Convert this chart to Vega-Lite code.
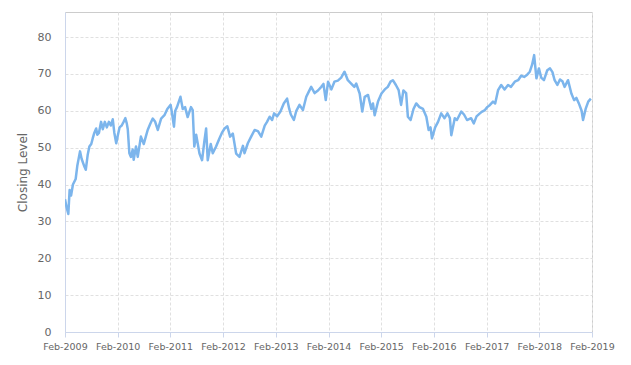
{
  "$schema": "https://vega.github.io/schema/vega-lite/v6.json",
  "width": 527,
  "height": 320,
  "autosize": "none",
  "padding": {"left": 65, "top": 12, "right": 39, "bottom": 33},
  "background": "white",
  "config": {
    "font": "DejaVu Sans",
    "view": {"stroke": "#cccccc", "strokeWidth": 1}
  },
  "data": {"values": [
    {"d":"2009-02-01","v":36},{"d":"2009-02-11","v":34},{"d":"2009-02-24","v":32},{"d":"2009-03-05","v":38.5},{"d":"2009-03-15","v":37},{"d":"2009-03-28","v":40},{"d":"2009-04-16","v":41.5},{"d":"2009-04-27","v":45},{"d":"2009-05-16","v":49},{"d":"2009-05-27","v":47},{"d":"2009-06-16","v":44.8},{"d":"2009-06-25","v":44},{"d":"2009-07-08","v":48},{"d":"2009-07-20","v":50.3},{"d":"2009-08-02","v":51},{"d":"2009-08-12","v":52.5},{"d":"2009-08-23","v":54},{"d":"2009-09-05","v":55.2},{"d":"2009-09-13","v":53.5},{"d":"2009-09-24","v":54},{"d":"2009-10-09","v":57},{"d":"2009-10-21","v":55},{"d":"2009-11-04","v":57},{"d":"2009-11-18","v":55.5},{"d":"2009-12-02","v":57},{"d":"2009-12-15","v":56},{"d":"2009-12-29","v":57.7},{"d":"2010-01-09","v":54},{"d":"2010-01-22","v":51.2},{"d":"2010-02-03","v":53.5},{"d":"2010-02-14","v":55.5},{"d":"2010-03-01","v":56},{"d":"2010-03-14","v":57},{"d":"2010-03-26","v":58},{"d":"2010-04-05","v":56.6},{"d":"2010-04-12","v":55},{"d":"2010-04-23","v":48.5},{"d":"2010-05-04","v":47.5},{"d":"2010-05-16","v":49.5},{"d":"2010-05-23","v":46.7},{"d":"2010-06-08","v":50.3},{"d":"2010-06-20","v":47.5},{"d":"2010-07-12","v":53},{"d":"2010-08-01","v":51},{"d":"2010-08-15","v":53},{"d":"2010-08-28","v":54.8},{"d":"2010-09-15","v":56.5},{"d":"2010-10-02","v":57.9},{"d":"2010-10-19","v":57},{"d":"2010-11-06","v":54.8},{"d":"2010-11-29","v":57.9},{"d":"2010-12-22","v":58.8},{"d":"2011-01-11","v":60.5},{"d":"2011-02-03","v":61.6},{"d":"2011-02-12","v":59.5},{"d":"2011-02-26","v":55.7},{"d":"2011-03-07","v":60},{"d":"2011-03-19","v":61},{"d":"2011-04-12","v":63.8},{"d":"2011-04-28","v":60.5},{"d":"2011-05-14","v":61},{"d":"2011-06-01","v":58.3},{"d":"2011-06-24","v":61},{"d":"2011-07-06","v":60.2},{"d":"2011-07-17","v":50.3},{"d":"2011-07-30","v":53.5},{"d":"2011-08-22","v":48.4},{"d":"2011-09-09","v":46.6},{"d":"2011-09-24","v":51.5},{"d":"2011-10-07","v":55.2},{"d":"2011-10-18","v":46.6},{"d":"2011-11-08","v":51},{"d":"2011-11-22","v":48.5},{"d":"2011-12-15","v":50.3},{"d":"2012-01-07","v":52.5},{"d":"2012-01-24","v":54},{"d":"2012-02-12","v":55.2},{"d":"2012-03-02","v":55.8},{"d":"2012-03-21","v":53},{"d":"2012-04-09","v":53.8},{"d":"2012-05-02","v":48.4},{"d":"2012-05-25","v":47.5},{"d":"2012-06-18","v":50.5},{"d":"2012-06-29","v":48.5},{"d":"2012-07-22","v":51.2},{"d":"2012-08-14","v":53},{"d":"2012-09-07","v":54.8},{"d":"2012-09-30","v":54.5},{"d":"2012-10-23","v":53},{"d":"2012-11-16","v":56},{"d":"2012-12-02","v":57},{"d":"2012-12-20","v":58.4},{"d":"2013-01-06","v":57.5},{"d":"2013-01-20","v":59.3},{"d":"2013-02-10","v":58.5},{"d":"2013-03-05","v":59.8},{"d":"2013-03-28","v":62},{"d":"2013-04-20","v":63.3},{"d":"2013-05-05","v":60.5},{"d":"2013-05-16","v":59},{"d":"2013-06-06","v":57.5},{"d":"2013-06-23","v":60},{"d":"2013-07-15","v":61.6},{"d":"2013-08-08","v":60.2},{"d":"2013-08-31","v":63.8},{"d":"2013-09-15","v":65},{"d":"2013-10-04","v":66.5},{"d":"2013-10-28","v":64.8},{"d":"2013-11-20","v":65.5},{"d":"2013-12-13","v":66.5},{"d":"2013-12-28","v":67.3},{"d":"2014-01-13","v":62.9},{"d":"2014-01-29","v":67.9},{"d":"2014-02-21","v":65.8},{"d":"2014-03-14","v":67.9},{"d":"2014-04-07","v":68.2},{"d":"2014-04-30","v":69},{"d":"2014-05-23","v":70.6},{"d":"2014-06-15","v":68.3},{"d":"2014-07-08","v":67.4},{"d":"2014-07-30","v":66.5},{"d":"2014-08-12","v":67.4},{"d":"2014-09-05","v":64.7},{"d":"2014-09-23","v":59.8},{"d":"2014-10-10","v":63.8},{"d":"2014-11-02","v":64.3},{"d":"2014-11-25","v":60.5},{"d":"2014-12-06","v":62},{"d":"2014-12-18","v":58.8},{"d":"2015-01-10","v":62.5},{"d":"2015-02-03","v":64.7},{"d":"2015-02-26","v":65.8},{"d":"2015-03-19","v":66.5},{"d":"2015-04-07","v":67.9},{"d":"2015-04-23","v":68.3},{"d":"2015-05-14","v":67},{"d":"2015-06-02","v":65.6},{"d":"2015-06-19","v":61.6},{"d":"2015-07-05","v":65.5},{"d":"2015-07-24","v":64.8},{"d":"2015-08-05","v":58.4},{"d":"2015-08-24","v":57.5},{"d":"2015-09-13","v":60.5},{"d":"2015-10-02","v":62},{"d":"2015-10-24","v":61},{"d":"2015-11-18","v":60.5},{"d":"2015-12-11","v":58.4},{"d":"2015-12-27","v":54.8},{"d":"2016-01-09","v":55.5},{"d":"2016-01-19","v":52.5},{"d":"2016-02-10","v":55.5},{"d":"2016-03-01","v":57},{"d":"2016-03-23","v":59.3},{"d":"2016-04-15","v":58},{"d":"2016-05-05","v":59.3},{"d":"2016-05-22","v":58},{"d":"2016-06-01","v":53.4},{"d":"2016-06-25","v":58},{"d":"2016-07-10","v":57.5},{"d":"2016-08-09","v":59.8},{"d":"2016-08-28","v":59},{"d":"2016-09-18","v":57.5},{"d":"2016-10-16","v":58},{"d":"2016-11-04","v":56.6},{"d":"2016-11-23","v":58.5},{"d":"2016-12-16","v":59.3},{"d":"2017-01-01","v":59.8},{"d":"2017-01-20","v":60.2},{"d":"2017-02-05","v":61},{"d":"2017-02-24","v":61.6},{"d":"2017-03-17","v":62.5},{"d":"2017-04-01","v":62},{"d":"2017-04-21","v":65.6},{"d":"2017-05-13","v":67},{"d":"2017-06-05","v":65.8},{"d":"2017-06-29","v":67},{"d":"2017-07-20","v":66.5},{"d":"2017-08-15","v":67.9},{"d":"2017-09-07","v":68.3},{"d":"2017-09-28","v":69.5},{"d":"2017-10-19","v":69.2},{"d":"2017-11-09","v":69.8},{"d":"2017-11-27","v":70.6},{"d":"2017-12-13","v":72.5},{"d":"2017-12-27","v":75.1},{"d":"2018-01-12","v":68.8},{"d":"2018-01-29","v":71.5},{"d":"2018-02-14","v":69},{"d":"2018-03-05","v":68.3},{"d":"2018-03-28","v":71},{"d":"2018-04-16","v":71.5},{"d":"2018-05-03","v":70.5},{"d":"2018-05-18","v":68.3},{"d":"2018-06-06","v":67},{"d":"2018-06-24","v":68.5},{"d":"2018-07-11","v":68},{"d":"2018-07-26","v":66.5},{"d":"2018-08-19","v":68.3},{"d":"2018-09-11","v":64.7},{"d":"2018-09-30","v":62.9},{"d":"2018-10-16","v":63.5},{"d":"2018-11-02","v":62},{"d":"2018-11-21","v":60},{"d":"2018-12-01","v":57.5},{"d":"2018-12-19","v":60.5},{"d":"2019-01-06","v":62.5},{"d":"2019-01-24","v":63.3}
  ]},
  "mark": {"type": "line", "color": "#7cb5ec", "strokeWidth": 2.5, "strokeJoin": "round", "clip": true},
  "encoding": {
    "x": {
      "field": "d",
      "type": "temporal",
      "scale": {"type": "utc", "domain": [{"year": 2009, "month": 2, "date": 1, "utc": true}, {"year": 2019, "month": 2, "date": 1, "utc": true}], "nice": false},
      "axis": {
        "title": null,
        "values": [
          {"year": 2009, "month": 2, "date": 1, "utc": true},
          {"year": 2010, "month": 2, "date": 1, "utc": true},
          {"year": 2011, "month": 2, "date": 1, "utc": true},
          {"year": 2012, "month": 2, "date": 1, "utc": true},
          {"year": 2013, "month": 2, "date": 1, "utc": true},
          {"year": 2014, "month": 2, "date": 1, "utc": true},
          {"year": 2015, "month": 2, "date": 1, "utc": true},
          {"year": 2016, "month": 2, "date": 1, "utc": true},
          {"year": 2017, "month": 2, "date": 1, "utc": true},
          {"year": 2018, "month": 2, "date": 1, "utc": true},
          {"year": 2019, "month": 2, "date": 1, "utc": true}
        ],
        "format": "%b-%Y",
        "labelFontSize": 9.5,
        "labelColor": "#666666",
        "labelPadding": 4,
        "labelFlush": false,
        "labelOverlap": false,
        "ticks": true,
        "tickSize": 5,
        "tickColor": "#ccd6eb",
        "domainColor": "#ccd6eb",
        "grid": true,
        "gridColor": "#e0e0e0",
        "gridDash": [3, 2]
      }
    },
    "y": {
      "field": "v",
      "type": "quantitative",
      "scale": {"domain": [0, 86.8], "nice": false, "zero": true},
      "axis": {
        "title": "Closing Level",
        "titleFontSize": 12,
        "titleFontWeight": "normal",
        "titleColor": "#666666",
        "titleX": -43,
        "titleY": 160,
        "titleAngle": -90,
        "titleAlign": "center",
        "titleBaseline": "middle",
        "values": [0, 10, 20, 30, 40, 50, 60, 70, 80],
        "labelFontSize": 11,
        "labelColor": "#666666",
        "labelPadding": 14,
        "ticks": false,
        "domainColor": "#ccd6eb",
        "grid": true,
        "gridColor": "#e0e0e0",
        "gridDash": [3, 2]
      }
    }
  }
}
